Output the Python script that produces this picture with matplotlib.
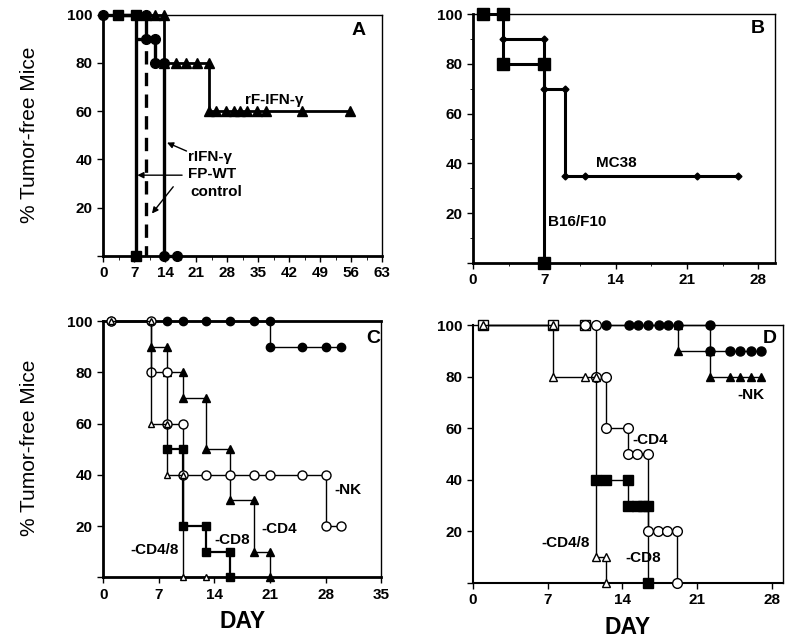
import matplotlib
matplotlib.use('Agg')
import matplotlib.pyplot as plt
from matplotlib.ticker import MultipleLocator

plt.rcParams['font.family'] = ['Liberation Sans', 'DejaVu Sans']
plt.rcParams['font.weight'] = 'bold'

# ---- Panel A (days, % tumor-free) ----
a_rifn_x = [0, 9.6, 9.6, 11.7, 11.7, 13.7, 13.7, 16.7]
a_rifn_y = [100, 100, 90, 90, 80, 80, 0, 0]
a_fpwt_x = [3.4, 7.4, 7.4]
a_fpwt_y = [100, 100, 0]
a_ctrl_x = [7.4, 9.6, 9.6]
a_ctrl_y = [90, 90, 0]
a_rfifn_x = [9.6, 11.7, 13.7, 13.7, 16.5, 18.6, 21.2, 23.9, 23.9, 25.5, 27.6,
             29.5, 30.8, 32.5, 34.8, 36.8, 44.8, 55.8]
a_rfifn_y = [100, 100, 100, 80, 80, 80, 80, 80, 60, 60, 60,
             60, 60, 60, 60, 60, 60, 60]

# ---- Panel B ----
b_b16_x = [1, 3, 3, 7, 7]
b_b16_y = [100, 100, 80, 80, 0]
b_mc38_x = [3, 7, 7, 9, 9, 11, 22, 26]
b_mc38_y = [90, 90, 70, 70, 35, 35, 35, 35]

# ---- Panel C ----
c_ctrl_x = [1, 8, 10, 13, 16, 19, 21, 21, 25, 28, 30]
c_ctrl_y = [100, 100, 100, 100, 100, 100, 100, 90, 90, 90, 90]
c_cd4_x = [6, 8, 8, 10, 10, 13, 13, 16, 16, 19, 19, 21, 21]
c_cd4_y = [90, 90, 80, 80, 70, 70, 50, 50, 30, 30, 10, 10, 0]
c_cd8_x = [8, 10, 10, 13, 13, 16, 16]
c_cd8_y = [50, 50, 20, 20, 10, 10, 0]
c_nk_x = [1, 6, 6, 8, 8, 10, 10, 13, 16, 19, 21, 25, 28, 28, 30]
c_nk_y = [100, 100, 80, 80, 60, 60, 40, 40, 40, 40, 40, 40, 40, 20, 20]
c_cd48_x = [1, 6, 6, 8, 8, 10, 10, 13]
c_cd48_y = [100, 100, 60, 60, 40, 40, 0, 0]

# ---- Panel D ----
d_ctrl_x = [12.5, 14.6, 15.5, 16.4, 17.4, 18.3, 19.2, 22.2, 22.2, 24.1, 25.0, 26.0, 27.0]
d_ctrl_y = [100, 100, 100, 100, 100, 100, 100, 100, 90, 90, 90, 90, 90]
d_nk_x = [19.2, 19.2, 22.2, 22.2, 24.1, 25.0, 26.0, 27.0]
d_nk_y = [100, 90, 90, 80, 80, 80, 80, 80]
d_cd8_x = [11.5, 12.5, 14.5, 14.5, 15.4, 15.9, 16.4, 16.4]
d_cd8_y = [40, 40, 40, 30, 30, 30, 30, 0]
d_sq_x = [1, 7.5, 10.5]
d_sq_y = [100, 100, 100]
d_cd4_x = [10.5, 11.5, 11.5, 12.5, 12.5, 14.5, 14.5, 15.4, 16.4, 16.4, 17.3, 18.2, 19.1, 19.1]
d_cd4_y = [100, 100, 80, 80, 60, 60, 50, 50, 50, 20, 20, 20, 20, 0]
d_cd48_x = [1, 7.5, 7.5, 10.5, 11.5, 11.5, 12.5, 12.5]
d_cd48_y = [100, 100, 80, 80, 80, 10, 10, 0]

yticks = [0, 20, 40, 60, 80, 100]
ylabels = ['', '20', '40', '60', '80', '100']

fig = plt.figure(figsize=(8, 6.4), dpi=100)
axA = fig.add_axes([0.129, 0.600, 0.349, 0.377])
axB = fig.add_axes([0.591, 0.589, 0.3775, 0.389])
axC = fig.add_axes([0.129, 0.098, 0.3475, 0.400])
axD = fig.add_axes([0.591, 0.089, 0.3875, 0.403])


def setup(ax, xmax, xstep, spine_w):
    ax.set_xlim(0, xmax)
    ax.set_ylim(0, 100)
    ax.set_xticks(range(0, int(xmax) + 1, xstep))
    ax.set_yticks(yticks)
    ax.set_yticklabels(ylabels)
    ax.tick_params(direction='out', length=4, width=1, labelsize=11)
    for lab in ax.get_xticklabels() + ax.get_yticklabels():
        lab.set_fontweight('bold')
    for s in ['left', 'bottom']:
        ax.spines[s].set_linewidth(spine_w)
    for s in ['top', 'right']:
        ax.spines[s].set_linewidth(1.0)


def km(ax, x, y, marker, ms, lw, face='black', ls='-', z=3):
    ax.plot(x, y, color='black', lw=lw, ls=ls, marker=marker, ms=ms,
            mfc=face, mec='black', mew=1, clip_on=False, zorder=z)


def arrow(ax, tip, tail):
    ax.annotate('', xy=tip, xytext=tail,
                arrowprops=dict(arrowstyle='-|>', color='black', lw=1,
                                mutation_scale=9, shrinkA=0, shrinkB=0))


# Panel A
setup(axA, 63, 7, 2)
axA.xaxis.set_minor_locator(MultipleLocator(3.5))
axA.tick_params(which='minor', direction='out', length=3)
km(axA, a_fpwt_x, a_fpwt_y, 's', 7.5, 2.4)
km(axA, a_ctrl_x, a_ctrl_y, None, 0, 2.4, ls=(0, (4, 2.5)))
km(axA, a_rfifn_x, a_rfifn_y, '^', 6.5, 2.0)
km(axA, a_rifn_x, a_rifn_y, 'o', 7, 2.4, z=4)
axA.text(38.5, 64.5, 'rF-IFN-γ', ha='center', va='center', fontsize=11, fontweight='bold')
axA.text(24.0, 41, 'rIFN-γ', ha='center', va='center', fontsize=11, fontweight='bold')
axA.text(24.5, 34, 'FP-WT', ha='center', va='center', fontsize=11, fontweight='bold')
axA.text(25.5, 26.5, 'control', ha='center', va='center', fontsize=11, fontweight='bold')
arrow(axA, (14.4, 47), (18.8, 43.5))
arrow(axA, (7.7, 33.5), (17.8, 33.5))
arrow(axA, (11, 17.6), (15.8, 28.7))
axA.text(57.6, 93.5, 'A', ha='center', va='center', fontsize=14, fontweight='bold')

# Panel B
setup(axB, 29.6, 7, 2)
axB.xaxis.set_minor_locator(MultipleLocator(3.5))
axB.yaxis.set_minor_locator(MultipleLocator(10))
axB.tick_params(which='minor', direction='out', length=2.5)
km(axB, b_b16_x, b_b16_y, 's', 8, 2.2)
km(axB, b_mc38_x, b_mc38_y, 'D', 3.5, 2.2)
axB.text(14.1, 40, 'MC38', ha='center', va='center', fontsize=11, fontweight='bold')
axB.text(10.2, 16.5, 'B16/F10', ha='center', va='center', fontsize=11, fontweight='bold')
axB.text(27.9, 94.4, 'B', ha='center', va='center', fontsize=14, fontweight='bold')

# Panel C
setup(axC, 35, 7, 2)
axC.spines['top'].set_linewidth(2)
km(axC, c_ctrl_x, c_ctrl_y, 'o', 6, 1.0)
km(axC, c_cd4_x, c_cd4_y, '^', 5.5, 1.0)
km(axC, c_cd8_x, c_cd8_y, 's', 6, 1.6)
km(axC, c_nk_x, c_nk_y, 'o', 6.5, 1.0, face='white', z=4)
km(axC, c_cd48_x, c_cd48_y, '^', 4.5, 1.0, face='white', z=5)
axC.text(30.8, 34, '-NK', ha='center', va='center', fontsize=11, fontweight='bold')
axC.text(22.2, 19, '-CD4', ha='center', va='center', fontsize=11, fontweight='bold')
axC.text(16.3, 14.5, '-CD8', ha='center', va='center', fontsize=11, fontweight='bold')
axC.text(6.5, 10.5, '-CD4/8', ha='center', va='center', fontsize=11, fontweight='bold')
axC.text(34.0, 93.4, 'C', ha='center', va='center', fontsize=14, fontweight='bold')
axC.set_xlabel('DAY', fontsize=16.5, fontweight='bold', labelpad=6)

# Panel D
setup(axD, 29, 7, 1.5)
km(axD, d_ctrl_x, d_ctrl_y, 'o', 6.5, 1.0)
km(axD, d_nk_x, d_nk_y, '^', 6, 1.0)
km(axD, d_cd8_x, d_cd8_y, 's', 7, 1.0)
km(axD, d_sq_x, d_sq_y, 's', 7, 1.0, face='white', z=4)
km(axD, d_cd4_x, d_cd4_y, 'o', 7, 1.0, face='white', z=4)
km(axD, d_cd48_x, d_cd48_y, '^', 6, 1.0, face='white', z=5)
axD.text(26.0, 73, '-NK', ha='center', va='center', fontsize=11, fontweight='bold')
axD.text(16.6, 55.4, '-CD4', ha='center', va='center', fontsize=11, fontweight='bold')
axD.text(15.9, 9.7, '-CD8', ha='center', va='center', fontsize=11, fontweight='bold')
axD.text(8.7, 15.5, '-CD4/8', ha='center', va='center', fontsize=11, fontweight='bold')
axD.text(27.8, 95, 'D', ha='center', va='center', fontsize=14, fontweight='bold')
axD.set_xlabel('DAY', fontsize=16.5, fontweight='bold', labelpad=6)

fig.text(0.037, 0.79, '% Tumor-free Mice', rotation=90, ha='center', va='center',
         fontsize=15, fontweight='normal')
fig.text(0.037, 0.30, '% Tumor-free Mice', rotation=90, ha='center', va='center',
         fontsize=15, fontweight='normal')

fig.savefig('out.png', dpi=100)
